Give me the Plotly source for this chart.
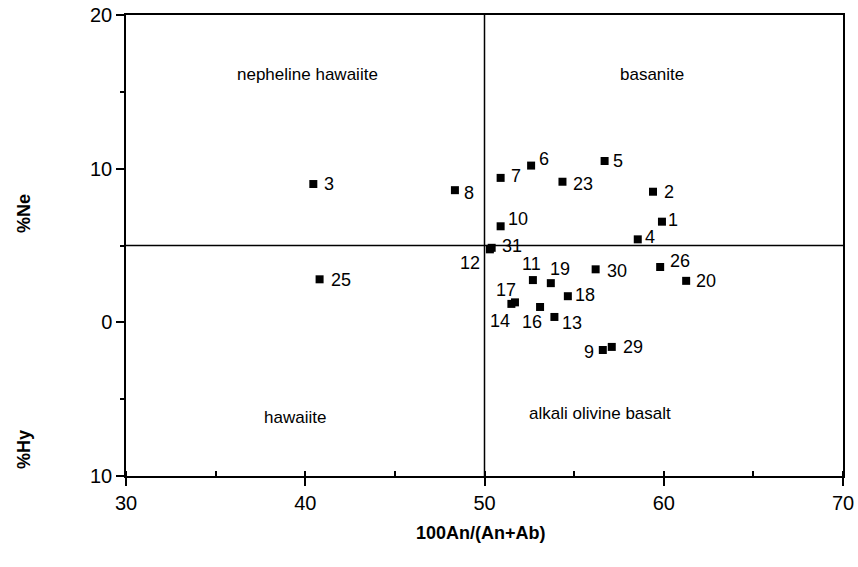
import plotly.graph_objects as go

# sample numbers and their positions on the diagram
sample_ids = ["1", "2", "3", "4", "5", "6", "7", "8", "9", "10", "11", "12", "13",
              "14", "16", "17", "18", "19", "20", "23", "25", "26", "29", "30", "31"]
an_ratio = [59.9, 59.4, 40.45, 58.55, 56.7, 52.6, 50.9, 48.35, 56.6, 50.9, 52.7, 50.3, 53.9,
            51.5, 53.1, 51.7, 54.65, 53.7, 61.25, 54.35, 40.8, 59.8, 57.1, 56.2, 50.4]
ne_hy = [6.55, 8.5, 9.0, 5.4, 10.5, 10.2, 9.4, 8.6, -1.8, 6.25, 2.75, 4.75, 0.35,
         1.2, 1.0, 1.3, 1.7, 2.55, 2.7, 9.15, 2.8, 3.6, -1.6, 3.45, 4.85]

# field names of the classification diagram
field_names = ["nepheline hawaiite", "basanite", "hawaiite", "alkali olivine basalt"]
field_x = [40.1, 59.35, 39.4, 56.45]
field_y = [16.15, 16.15, -6.2, -5.9]

x_tickvals = [30, 40, 50, 60, 70]
y_tickvals = [-10, 0, 10, 20]
y_ticktext = ["10", "0", "10", "20"]

# label offsets in pixels (dx right, dy down) from each point
label_offsets = {
    "1": (11, -2), "2": (16, 0), "3": (16, 0), "4": (12, -2), "5": (13, 0),
    "6": (13, -7), "7": (15, -2), "8": (14, 3), "9": (-14, 2), "10": (17, -7),
    "11": (-1, -16), "12": (-20, 14), "13": (18, 6), "14": (-11, 17), "16": (-8, 15),
    "17": (-9, -12), "18": (17, -1), "19": (9, -14), "20": (20, 0), "23": (21, 2),
    "25": (21, 1), "26": (20, -6), "29": (21, 0), "30": (21, 2), "31": (20, -2),
}

FONT = "Liberation Sans, Arial, Helvetica, sans-serif"

# body margin is removed in the page, so figure pixels == screen pixels
W, H = 858, 567
L, R, T, B = 126, 15, 15, 91
PW, PH = W - L - R, H - T - B


def paper_xy(sx, sy):
    """Screen pixel position -> paper coordinates."""
    return (sx - L) / PW, 1 - (sy - T) / PH


fig = go.Figure()

fig.add_trace(go.Scatter(
    x=an_ratio,
    y=ne_hy,
    mode="markers",
    marker=dict(symbol="square", size=8, color="black"),
    showlegend=False,
    hoverinfo="skip",
))

# dividing lines
fig.add_shape(type="line", x0=50, x1=50, y0=-10, y1=20,
              line=dict(color="black", width=1.5))
fig.add_shape(type="line", x0=30, x1=70, y0=5, y1=5,
              line=dict(color="black", width=1.5))

for sid, x, y in zip(sample_ids, an_ratio, ne_hy):
    dx, dy = label_offsets[sid]
    fig.add_annotation(x=x, y=y, text=sid, showarrow=False,
                       xshift=dx, yshift=-dy,
                       font=dict(family=FONT, size=18, color="black"))

for name, x, y in zip(field_names, field_x, field_y):
    fig.add_annotation(x=x, y=y, text=name, showarrow=False,
                       font=dict(family=FONT, size=17, color="black"))

# axis titles
titles = [("<b>%Ne</b>", 24, 213, -90), ("<b>%Hy</b>", 24, 449, -90),
          ("<b>100An/(An+Ab)</b>", 481, 533, 0)]
for text, sx, sy, angle in titles:
    px, py = paper_xy(sx, sy)
    fig.add_annotation(x=px, y=py, xref="paper", yref="paper", text=text,
                       xanchor="center", yanchor="middle",
                       showarrow=False, textangle=angle,
                       font=dict(family=FONT, size=18, color="black"))

fig.update_xaxes(
    range=[30, 70],
    tickvals=x_tickvals,
    ticks="outside", ticklen=8, tickwidth=1.5, tickcolor="black",
    minor=dict(dtick=5, ticks="inside", ticklen=5, tickwidth=1.5, tickcolor="black"),
    showline=True, linecolor="black", linewidth=1.5, mirror=True,
    showgrid=False, zeroline=False, automargin=False,
    ticklabeloverflow="allow",
    tickfont=dict(family=FONT, size=20, color="black"),
)
fig.update_yaxes(
    range=[-10, 20],
    tickvals=y_tickvals, ticktext=y_ticktext,
    ticks="outside", ticklen=8, tickwidth=1.5, tickcolor="black",
    minor=dict(dtick=5, ticks="outside", ticklen=4, tickwidth=1.5, tickcolor="black"),
    showline=True, linecolor="black", linewidth=1.5, mirror=True,
    showgrid=False, zeroline=False, automargin=False,
    ticklabeloverflow="allow",
    tickfont=dict(family=FONT, size=20, color="black"),
)

fig.update_layout(
    width=W, height=H,
    margin=dict(l=L, r=R, t=T, b=B, autoexpand=False),
    paper_bgcolor="white",
    plot_bgcolor="white",
)

fig.write_html("out.html", config={"displayModeBar": False},
               post_script="document.body.style.margin = '0';")
